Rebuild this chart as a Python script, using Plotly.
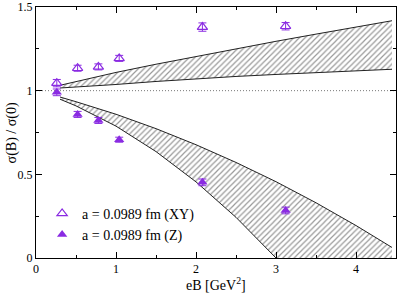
import plotly.graph_objects as go

# Data points
eB = [0.26, 0.52, 0.78, 1.04, 2.08, 3.12]
xy_vals = [1.045, 1.134, 1.142, 1.193, 1.380, 1.385]
xy_err = [0.022, 0.018, 0.018, 0.018, 0.025, 0.022]
z_vals = [0.990, 0.858, 0.822, 0.707, 0.452, 0.284]
z_err = [0.020, 0.018, 0.018, 0.015, 0.020, 0.020]

# Band edges
band_B = [0.30, 0.50, 1.00, 1.50, 2.00, 2.50, 3.00, 3.50, 4.00, 4.45]
up_hi = [1.032, 1.055, 1.109, 1.158, 1.205, 1.251, 1.295, 1.338, 1.379, 1.418]
up_lo = [1.016, 1.021, 1.037, 1.055, 1.072, 1.085, 1.097, 1.108, 1.118, 1.128]
lo_hi = [0.962, 0.934, 0.859, 0.773, 0.677, 0.571, 0.456, 0.330, 0.194, 0.063]
lo_lo = [0.949, 0.909, 0.788, 0.636, 0.455, 0.243, 0.000, -0.272, -0.576, -0.874]

# Tick labels
x_ticks = [0, 1, 2, 3, 4]
x_ticktext = ["0", "1", "2", "3", "4"]
y_ticks = [0, 0.5, 1, 1.5]
y_ticktext = ["0", "0.5", "1", "1.5"]

purple = "#8a2be2"
serif = "Liberation Serif"

fig = go.Figure()

pattern = dict(shape="/", size=4, solidity=0.3, fgcolor="#333333", bgcolor="white")

for lo, hi in [(up_lo, up_hi), (lo_lo, lo_hi)]:
    fig.add_trace(go.Scatter(x=band_B, y=lo, mode="lines",
                             line=dict(color="#222222", width=1), showlegend=False,
                             hoverinfo="skip"))
    fig.add_trace(go.Scatter(x=band_B, y=hi, mode="lines", fill="tonexty",
                             fillpattern=pattern, fillcolor="rgba(0,0,0,0)",
                             line=dict(color="#222222", width=1), showlegend=False,
                             hoverinfo="skip"))

fig.add_trace(go.Scatter(
    x=eB, y=xy_vals, mode="markers", name="a = 0.0989 fm (XY)",
    marker=dict(symbol="triangle-up-open", size=9, color=purple, line=dict(width=1.2)),
    error_y=dict(type="data", array=xy_err, color=purple, thickness=1, width=4)))
fig.add_trace(go.Scatter(
    x=eB, y=z_vals, mode="markers", name="a = 0.0989 fm (Z)",
    marker=dict(symbol="triangle-up", size=9, color=purple, line=dict(width=0)),
    error_y=dict(type="data", array=z_err, color=purple, thickness=1, width=4)))

fig.add_shape(type="line", xref="paper", x0=0, x1=1, yref="y", y0=1, y1=1,
              line=dict(color="#777777", width=1, dash="1px,2px"), layer="below")

axis_common = dict(showline=True, linecolor="black", linewidth=1, mirror="allticks",
                   ticks="inside", ticklen=6, tickcolor="black", showgrid=False,
                   zeroline=False, automargin=False, ticklabeloverflow="allow",
                   tickfont=dict(family=serif, size=12, color="black"))

fig.update_xaxes(range=[0, 4.5], tickmode="array", tickvals=x_ticks, ticktext=x_ticktext,
                 minor=dict(ticks="inside", ticklen=3, dtick=0.5, tickcolor="black"),
                 **axis_common)
fig.update_yaxes(range=[0, 1.5], tickmode="array", tickvals=y_ticks, ticktext=y_ticktext,
                 minor=dict(ticks="inside", ticklen=3, dtick=0.25, tickcolor="black"),
                 **axis_common)

fig.add_annotation(text="eB [GeV<sup>2</sup>]", xref="paper", yref="paper",
                   x=0.5, y=-0.06, xanchor="center", yanchor="top", showarrow=False,
                   font=dict(family=serif, size=14, color="black"))
fig.add_annotation(text="σ(B) / σ(0)", xref="paper", yref="paper",
                   x=-0.067, y=0.5, xanchor="center", yanchor="middle", showarrow=False,
                   textangle=-90, font=dict(family=serif, size=14, color="black"))

fig.update_layout(
    width=399, height=294, autosize=False,
    margin=dict(l=36, r=3, t=7, b=36, autoexpand=False),
    plot_bgcolor="white", paper_bgcolor="white",
    legend=dict(x=0.017, y=0.24, xanchor="left", yanchor="top", traceorder="normal",
                bgcolor="rgba(0,0,0,0)", font=dict(family=serif, size=14, color="black"),
                tracegroupgap=0, itemwidth=30),
)

fig.write_html("out.html", config={"responsive": False, "displayModeBar": False},
               post_script="document.body.style.margin='0px';document.body.style.padding='0px';document.body.style.overflow='hidden';document.documentElement.style.overflow='hidden';")
